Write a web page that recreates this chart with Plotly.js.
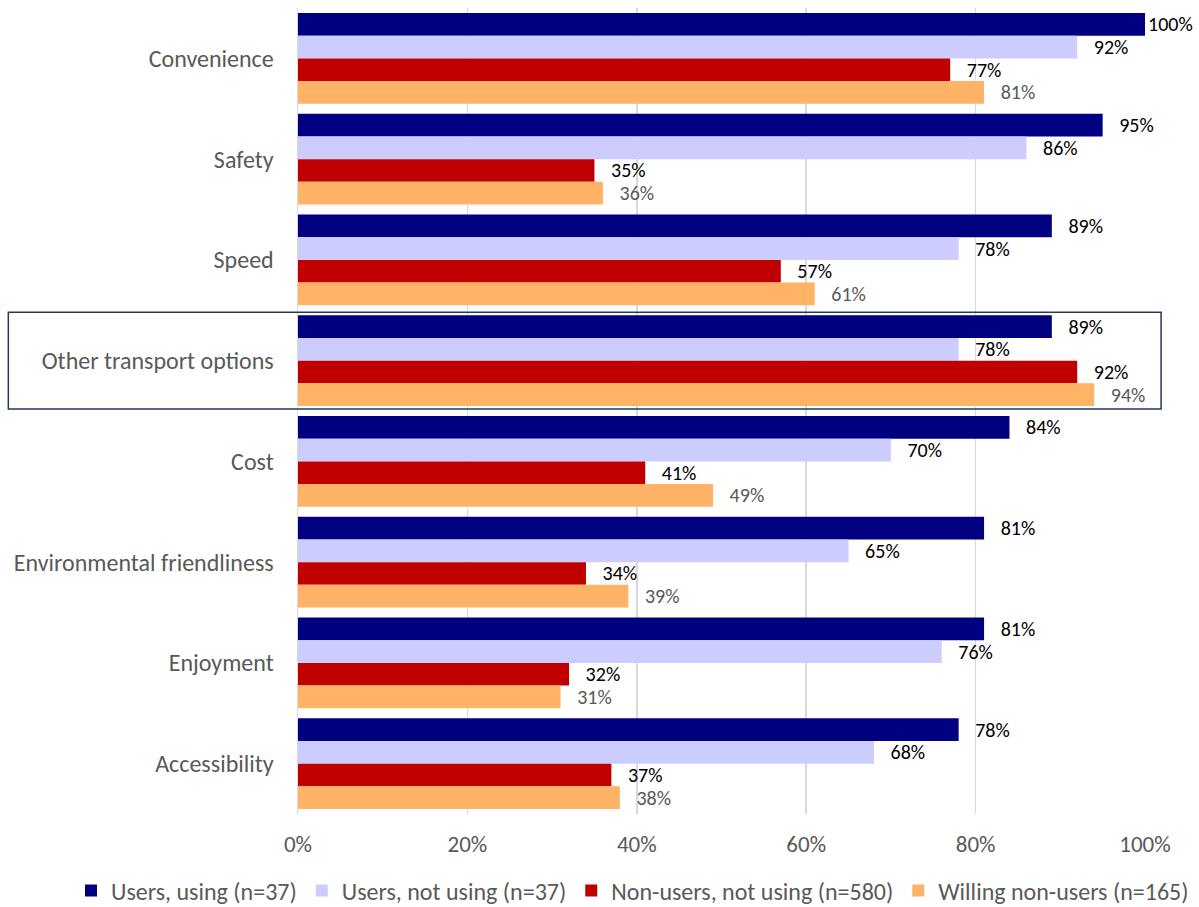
<!DOCTYPE html>
<html>
<head>
<meta charset="utf-8">
<script src="https://cdn.plot.ly/plotly-3.0.1.min.js"></script>
<style>html,body{margin:0;padding:0;background:#fff;}#chart{width:1199px;height:907px;}</style>
</head>
<body>
<div id="chart"></div>
<script>
const categories = ["Convenience","Safety","Speed","Other transport options","Cost","Environmental friendliness","Enjoyment","Accessibility"];
const seriesNames = ["Users, using (n=37)","Users, not using (n=37)","Non-users, not using (n=580)","Willing non-users (n=165)"];
const usersUsing = [100,95,89,89,84,81,81,78];
const usersNotUsing = [92,86,78,78,70,65,76,68];
const nonUsersNotUsing = [77,35,57,92,41,34,32,37];
const willingNonUsers = [81,36,61,94,49,39,31,38];
const xTickVals = [0,20,40,60,80,100];
const xTickText = ["0%","20%","40%","60%","80%","100%"];

const seriesValues = [usersUsing, usersNotUsing, nonUsersNotUsing, willingNonUsers];
const colors = ["#000080","#ccccff","#c00000","#ffb366"];
const labelColors = ["#000000","#000000","#000000","#595959"];
const FONT = "Carlito, Calibri, 'Open Sans', sans-serif";

const traces = seriesValues.map((vals, i) => ({
  type: "bar",
  orientation: "h",
  name: seriesNames[i],
  y: categories,
  x: vals,
  marker: {color: colors[i]},
  text: vals.map(v => (v >= 100 ? "" : "\u00a0\u00a0\u00a0") + v + "%"),
  textposition: "outside",
  constraintext: "none",
  cliponaxis: false,
  textfont: {family: FONT, size: 20, color: labelColors[i]},
  hoverinfo: "x+y"
}));

const layout = {
  width: 1199, height: 907,
  margin: {l: 298, r: 54, t: 8, b: 93, autoexpand: false},
  paper_bgcolor: "#ffffff", plot_bgcolor: "#ffffff",
  barmode: "group",
  bargap: 0.1,
  bargroupgap: 0,
  font: {family: FONT, size: 23, color: "#595959"},
  xaxis: {
    range: [0, 100],
    tickvals: xTickVals, ticktext: xTickText,
    tickangle: 0,
    showgrid: true, gridcolor: "#d9d9d9", gridwidth: 1.5,
    zeroline: false, showline: false,
    ticks: "", ticklabelstandoff: 14,
    tickfont: {family: FONT, size: 23, color: "#595959"}
  },
  yaxis: {
    autorange: "reversed",
    showline: true, linecolor: "#d9d9d9", linewidth: 1.5,
    ticks: "", ticklabelstandoff: 18,
    tickfont: {family: FONT, size: 24, color: "#595959"}
  },
  legend: {
    orientation: "h",
    xref: "paper", x: -0.268, xanchor: "left",
    yref: "paper", y: -0.0955, yanchor: "middle",
    font: {family: FONT, size: 24, color: "#595959"},
    traceorder: "normal",
    itemwidth: 30
  },
  shapes: [{
    type: "rect", xref: "paper", yref: "y",
    x0: -0.342, x1: 1.019, y0: 2.52, y1: 3.48,
    line: {color: "#1f3864", width: 1.5},
    fillcolor: "rgba(0,0,0,0)"
  }],
  showlegend: true
};

Plotly.newPlot("chart", traces, layout, {displayModeBar: false, staticPlot: true});
</script>
</body>
</html>
